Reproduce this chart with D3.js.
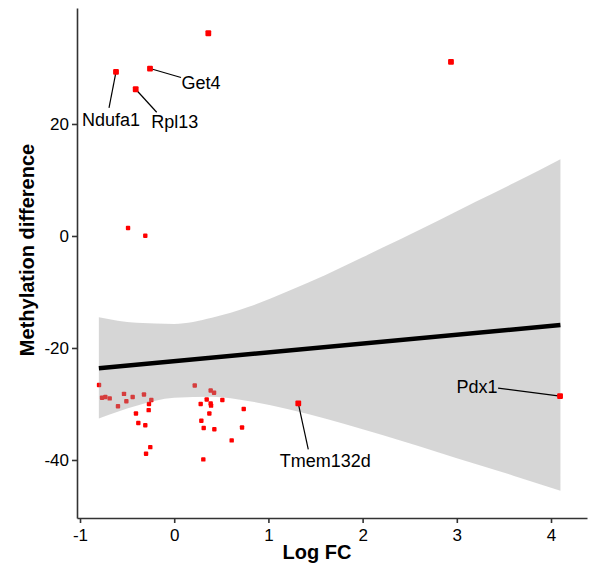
<!DOCTYPE html>
<html>
<head>
<meta charset="utf-8">
<script src="https://cdn.jsdelivr.net/npm/d3@7"></script>
<style>
  body { margin: 0; background: #fff; }
  text { font-family: "Liberation Sans", Arial, sans-serif; }
</style>
</head>
<body>
<div id="chart"></div>
<script>
// ---- data ----
const logFC = [-0.798, -0.766, -0.731, -0.685, -0.533, -0.441, -0.321, -0.597, -0.508, -0.243,
    -0.268, -0.271, -0.406, -0.381, -0.307, -0.254, -0.299, 0.218, 0.387, 0.423,
    0.345, 0.281, 0.387, 0.391, 0.511, 0.373, 0.738, 0.288, 0.313, 0.426,
    0.720, 0.610, 0.309, -0.490, -0.307];
const methDiff = [-26.6, -28.9, -28.75, -29.0, -28.2, -28.75, -28.3, -30.4, -29.5, -29.3,
    -30.0, -31.1, -31.7, -33.4, -33.8, -37.7, -38.9, -26.7, -27.6, -28.0,
    -29.2, -30.0, -29.9, -30.3, -29.3, -31.7, -30.9, -33.0, -34.3, -34.5,
    -34.2, -36.5, -39.9, 1.43, 0.05];

// highlighted genes (bigger squares), empty name = no label
const hiGenes = ["", "", "Ndufa1", "Get4", "Rpl13", "Tmem132d", "Pdx1"];
const hiLogFC = [0.362, 2.938, -0.618, -0.257, -0.409, 1.317, 4.096];
const hiMeth = [36.2, 31.1, 29.3, 29.9, 26.2, -29.9, -28.6];

// linear fit + confidence band
const fitX = [-0.8, -0.4, 0, 0.4, 0.8, 1.2, 1.6, 2.0, 2.4, 2.8, 3.2, 3.6, 4.1];
const fitLower = [-32.6, -30.3, -28.9, -28.7, -29.5, -30.9, -32.6, -34.5, -36.5, -38.6, -40.7, -42.8, -45.5];
const fitUpper = [-14.5, -15.5, -15.7, -14.6, -12.6, -9.9, -7.0, -3.8, -0.6, 2.7, 6.1, 9.4, 13.7];
const lineX = [-0.8, 4.1];
const lineY = [-23.6, -15.9];

const xTicks = [-1, 0, 1, 2, 3, 4];
const yTicks = [-40, -20, 0, 20];

// ---- layout ----
const W = 589, H = 571;
// label placement relative to point: text centre (tx,ty), segment end (sx,sy)
const labelNudge = {
    Ndufa1:   { tx: -5,  ty: 48,  sx: -7,  sy: 36 },
    Get4:     { tx: 51,  ty: 14,  sx: 31,  sy: 9 },
    Rpl13:    { tx: 39,  ty: 32,  sx: 21,  sy: 23 },
    Tmem132d: { tx: 27,  ty: 57,  sx: 10,  sy: 46 },
    Pdx1:     { tx: -83, ty: -9,  sx: -62, sy: -8 }
};

const svg = d3.select("#chart").append("svg")
    .attr("width", W)
    .attr("height", H);

const x = d3.scaleLinear().domain([-1.032, 4.382]).range([77, 587]);
const y = d3.scaleLinear().domain([-50.36, 40.71]).range([518, 8]);

const pts = logFC.map((d, i) => ({ x: d, y: methDiff[i] }));
const hi = hiLogFC.map((d, i) => ({ x: d, y: hiMeth[i], name: hiGenes[i] }));
const band = fitX.map((d, i) => ({ x: d, lo: fitLower[i], hi: fitUpper[i] }));

// small points (drawn under the band)
const s = 4.4;
svg.selectAll(".pt")
    .data(pts)
    .enter().append("rect")
    .attr("class", "pt")
    .attr("x", d => x(d.x) - s / 2)
    .attr("y", d => y(d.y) - s / 2)
    .attr("width", s)
    .attr("height", s)
    .attr("rx", 0.9)
    .style("fill", "#ff0000");

// confidence band
svg.append("path")
    .datum(band)
    .attr("d", d3.area()
        .x(d => x(d.x))
        .y0(d => y(d.lo))
        .y1(d => y(d.hi))
        .curve(d3.curveMonotoneX))
    .style("fill", "#999999")
    .style("fill-opacity", 0.4);

// regression line
svg.append("line")
    .attr("x1", x(lineX[0])).attr("y1", y(lineY[0]))
    .attr("x2", x(lineX[1])).attr("y2", y(lineY[1]))
    .style("stroke", "#000")
    .style("stroke-width", 4.5);

// label segments + texts
const labelled = hi.filter(d => d.name);
svg.selectAll(".seg")
    .data(labelled)
    .enter().append("line")
    .attr("class", "seg")
    .attr("x1", d => x(d.x)).attr("y1", d => y(d.y))
    .attr("x2", d => x(d.x) + labelNudge[d.name].sx)
    .attr("y2", d => y(d.y) + labelNudge[d.name].sy)
    .style("stroke", "#000")
    .style("stroke-width", 1.2);

svg.selectAll(".lab")
    .data(labelled)
    .enter().append("text")
    .attr("class", "lab")
    .attr("x", d => x(d.x) + labelNudge[d.name].tx)
    .attr("y", d => y(d.y) + labelNudge[d.name].ty)
    .attr("dy", "0.35em")
    .attr("text-anchor", "middle")
    .attr("font-size", "18px")
    .style("fill", "#000")
    .text(d => d.name);

// highlighted points on top
const b = 5.8;
svg.selectAll(".hi")
    .data(hi)
    .enter().append("rect")
    .attr("class", "hi")
    .attr("x", d => x(d.x) - b / 2)
    .attr("y", d => y(d.y) - b / 2)
    .attr("width", b)
    .attr("height", b)
    .attr("rx", 1)
    .style("fill", "#ff0000");

// axes
const fmt = d => String(d);   // plain hyphen minus, like the reference
const xAxis = svg.append("g")
    .attr("transform", "translate(0,518)")
    .call(d3.axisBottom(x).tickValues(xTicks).tickFormat(fmt)
        .tickSize(5).tickPadding(6).tickSizeOuter(0));
const yAxis = svg.append("g")
    .attr("transform", "translate(77,0)")
    .call(d3.axisLeft(y).tickValues(yTicks).tickFormat(fmt)
        .tickSize(5).tickPadding(3).tickSizeOuter(0));

[xAxis, yAxis].forEach(g => {
    g.select(".domain").style("stroke", "#333").style("stroke-width", 1.6);
    g.selectAll(".tick line").style("stroke", "#333").style("stroke-width", 1.6);
    g.selectAll(".tick text")
        .style("font-family", "'Liberation Sans', Arial, sans-serif")
        .style("font-size", "17px")
        .style("fill", "#000");
});

// axis titles
svg.append("text")
    .attr("x", 317)
    .attr("y", 559)
    .attr("text-anchor", "middle")
    .attr("font-size", "20px")
    .attr("font-weight", "bold")
    .text("Log FC");

svg.append("text")
    .attr("transform", "translate(34,250) rotate(-90)")
    .attr("text-anchor", "middle")
    .attr("font-size", "20px")
    .attr("font-weight", "bold")
    .text("Methylation difference");
</script>
</body>
</html>
